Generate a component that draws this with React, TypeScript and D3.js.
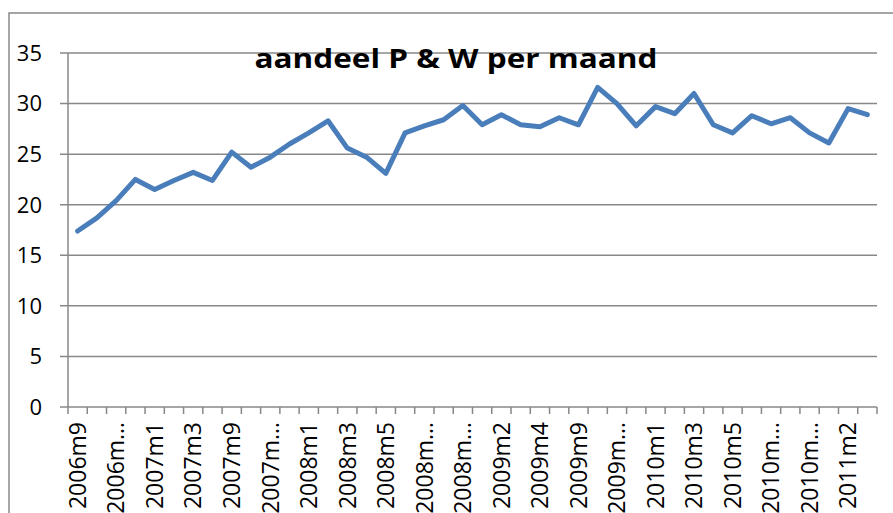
import { line, scaleBand, scaleLinear } from "d3";

const categories = [
  "2006m9", "2006m10", "2006m11", "2006m12", "2007m1", "2007m2", "2007m3", "2007m4",
  "2007m9", "2007m10", "2007m11", "2007m12", "2008m1", "2008m2", "2008m3", "2008m4",
  "2008m5", "2008m6", "2008m10", "2008m11", "2008m12", "2009m1", "2009m2", "2009m3",
  "2009m4", "2009m5", "2009m9", "2009m10", "2009m11", "2009m12", "2010m1", "2010m2",
  "2010m3", "2010m4", "2010m5", "2010m6", "2010m10", "2010m11", "2010m12", "2011m1",
  "2011m2", "2011m3",
];

const values = [
  17.4, 18.7, 20.4, 22.5, 21.5, 22.4, 23.2, 22.4, 25.2, 23.7, 24.7, 26.0, 27.1, 28.3,
  25.6, 24.7, 23.1, 27.1, 27.8, 28.4, 29.8, 27.9, 28.9, 27.9, 27.7, 28.6, 27.9, 31.6,
  30.0, 27.8, 29.7, 29.0, 31.0, 27.9, 27.1, 28.8, 28.0, 28.6, 27.1, 26.1, 29.5, 28.9,
];

const yTicks = [0, 5, 10, 15, 20, 25, 30, 35];

const TITLE = "aandeel P & W per maand";
const FONT = "'Open Sans', 'Liberation Sans', sans-serif";
const GRID = "#888888";

// te lange labels worden afgekapt zoals in Excel
const shortLabel = (s: string) => (s.length > 6 ? s.slice(0, 5) + "…" : s);

export default function App() {
  const width = 893;
  const height = 513;
  const left = 68;
  const right = 877;
  const top = 53;
  const bottom = 407;

  const x = scaleBand<string>().domain(categories).range([left, right]).padding(0);
  const y = scaleLinear().domain([0, 35]).range([bottom, top]);
  const bw = x.bandwidth();

  const path = line<number>()
    .x((_, i) => (x(categories[i]) ?? 0) + bw / 2)
    .y((d) => y(d));

  return (
    <svg
      width={width}
      height={height}
      style={{ position: "absolute", left: 0, top: 0, background: "#fff" }}
    >
      <rect x={9} y={13} width={width} height={height} fill="#fff" stroke={GRID} strokeWidth={1.5} />

      {yTicks.map((t) => (
        <g key={t}>
          <line x1={left - 8} x2={right} y1={y(t)} y2={y(t)} stroke={GRID} strokeWidth={1.5} />
          <text
            x={42}
            y={y(t)}
            dy="0.36em"
            textAnchor="end"
            fontFamily={FONT}
            fontSize={22}
            fill="#000"
          >
            {t}
          </text>
        </g>
      ))}

      <line x1={left} x2={left} y1={top} y2={bottom} stroke={GRID} strokeWidth={1.5} />

      {categories.map((c) => (
        <line
          key={"t" + c}
          x1={x(c)}
          x2={x(c)}
          y1={bottom}
          y2={bottom + 7}
          stroke={GRID}
          strokeWidth={1.5}
        />
      ))}
      <line x1={right} x2={right} y1={bottom} y2={bottom + 7} stroke={GRID} strokeWidth={1.5} />

      {categories.map((c, i) =>
        i % 2 === 0 ? (
          <text
            key={"l" + c}
            transform={`translate(${(x(c) ?? 0) + bw / 2},${bottom + 15}) rotate(-90)`}
            dy="0.36em"
            textAnchor="end"
            fontFamily={FONT}
            fontSize={23}
            fill="#000"
          >
            {shortLabel(c)}
          </text>
        ) : null
      )}

      <path
        d={path(values) ?? ""}
        fill="none"
        stroke="#4a7ebb"
        strokeWidth={5}
        strokeLinejoin="round"
        strokeLinecap="round"
      />

      <text
        x={456}
        y={68}
        textAnchor="middle"
        fontFamily={FONT}
        fontWeight="bold"
        fontSize={27}
        textLength={403}
        lengthAdjust="spacingAndGlyphs"
        fill="#000"
      >
        {TITLE}
      </text>
    </svg>
  );
}
